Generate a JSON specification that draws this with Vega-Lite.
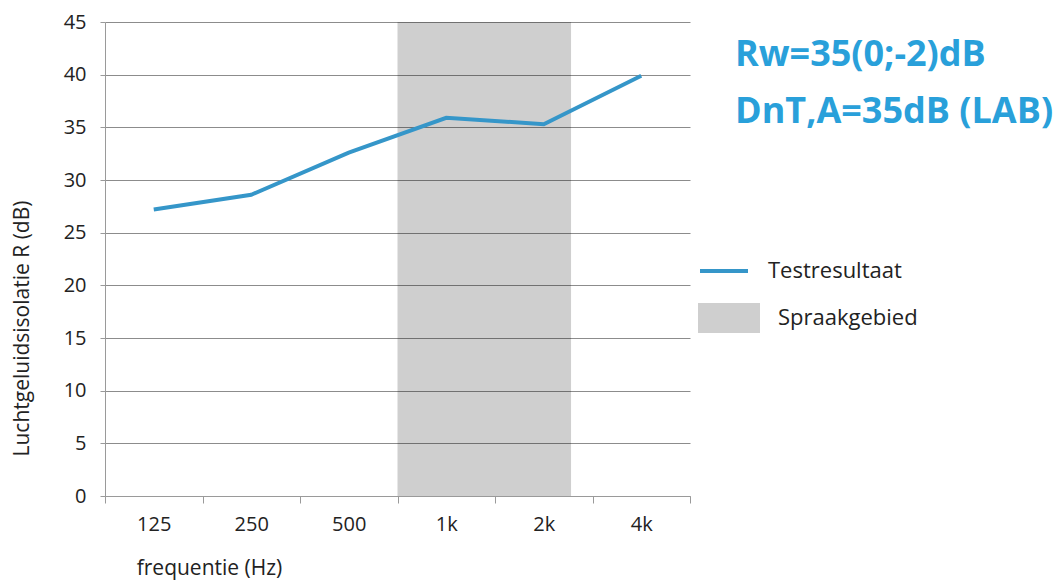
{
  "$schema": "https://vega.github.io/schema/vega-lite/v6.json",
  "width": 585,
  "height": 474,
  "autosize": "none",
  "padding": {"left": 105, "top": 22, "right": 373, "bottom": 85},
  "background": "white",
  "config": {
    "font": "Open Sans",
    "view": {"stroke": null},
    "title": {"font": "Open Sans"}
  },
  "title": {
    "text": ["Rw=35(0;-2)dB", "DnT,A=35dB (LAB)"],
    "anchor": "start",
    "frame": "group",
    "orient": "top",
    "align": "left",
    "baseline": "top",
    "dx": 630,
    "dy": 123,
    "fontSize": 36,
    "fontWeight": "bold",
    "lineHeight": 57,
    "color": "#29A0DA"
  },
  "datasets": {
    "results": [
      {"freq": "125", "R": 27.2},
      {"freq": "250", "R": 28.6},
      {"freq": "500", "R": 32.6},
      {"freq": "1k", "R": 35.9},
      {"freq": "2k", "R": 35.3},
      {"freq": "4k", "R": 39.9}
    ],
    "band": [
      {"from": "1k", "to": "2k", "low": 0, "high": 45}
    ]
  },
  "layer": [
    {
      "data": {"name": "band"},
      "mark": {"type": "rect"},
      "encoding": {
        "x": {"field": "from", "type": "nominal", "bandPosition": 0},
        "x2": {"field": "to", "bandPosition": 0.78},
        "y": {"field": "low", "type": "quantitative"},
        "y2": {"field": "high"},
        "fill": {
          "datum": "Spraakgebied",
          "type": "nominal",
          "scale": {"range": ["rgba(0,0,0,0.19)"]},
          "legend": {
            "orient": "none",
            "legendX": 593,
            "legendY": 265,
            "title": null,
            "symbolType": "M-1,-0.48H1V0.48H-1Z",
            "symbolSize": 3844,
            "symbolStrokeWidth": 0,
            "labelFontSize": 22,
            "labelColor": "#222222",
            "labelOffset": 18,
            "labelFont": "Open Sans"
          }
        }
      }
    },
    {
      "data": {"name": "results"},
      "mark": {"type": "line", "strokeWidth": 4, "strokeJoin": "miter"},
      "encoding": {
        "x": {
          "field": "freq",
          "type": "nominal",
          "sort": ["125", "250", "500", "1k", "2k", "4k"],
          "scale": {"domain": ["125", "250", "500", "1k", "2k", "4k"], "paddingInner": 0, "paddingOuter": 0},
          "axis": {
            "title": "frequentie (Hz)",
            "titleFontSize": 21,
            "titleFontWeight": "normal",
            "titleColor": "#222222",
            "titleX": 104,
            "titleY": 72,
            "titleAlign": "center",
            "titleBaseline": "middle",
            "labelAngle": 0,
            "labelAlign": "center",
            "labelFontSize": 20,
            "labelColor": "#222222",
            "labelPadding": 21,
            "tickBand": "extent",
            "tickSize": 7,
            "tickColor": "#9A9A9A",
            "domainColor": "#9A9A9A",
            "grid": false
          }
        },
        "y": {
          "field": "R",
          "type": "quantitative",
          "scale": {"domain": [0, 45], "nice": false},
          "axis": {
            "title": "Luchtgeluidsisolatie R (dB)",
            "titleFontSize": 21,
            "titleFontWeight": "normal",
            "titleColor": "#222222",
            "titleX": -83,
            "titleY": 306,
            "titleAngle": -90,
            "titleAlign": "center",
            "titleBaseline": "middle",
            "values": [0, 5, 10, 15, 20, 25, 30, 35, 40, 45],
            "labelFontSize": 20,
            "labelColor": "#222222",
            "labelPadding": 14,
            "tickSize": 5,
            "tickColor": "#9A9A9A",
            "domainColor": "#9A9A9A",
            "grid": true,
            "gridColor": "#8C8C8C",
            "gridWidth": 1
          }
        },
        "stroke": {
          "datum": "Testresultaat",
          "type": "nominal",
          "scale": {"range": ["#3596C9"]},
          "legend": {
            "orient": "none",
            "legendX": 593,
            "legendY": 223,
            "title": null,
            "symbolType": "stroke",
            "symbolSize": 2304,
            "symbolStrokeWidth": 4,
            "labelFontSize": 22,
            "labelColor": "#222222",
            "labelOffset": 18,
            "labelFont": "Open Sans"
          }
        }
      }
    }
  ]
}
